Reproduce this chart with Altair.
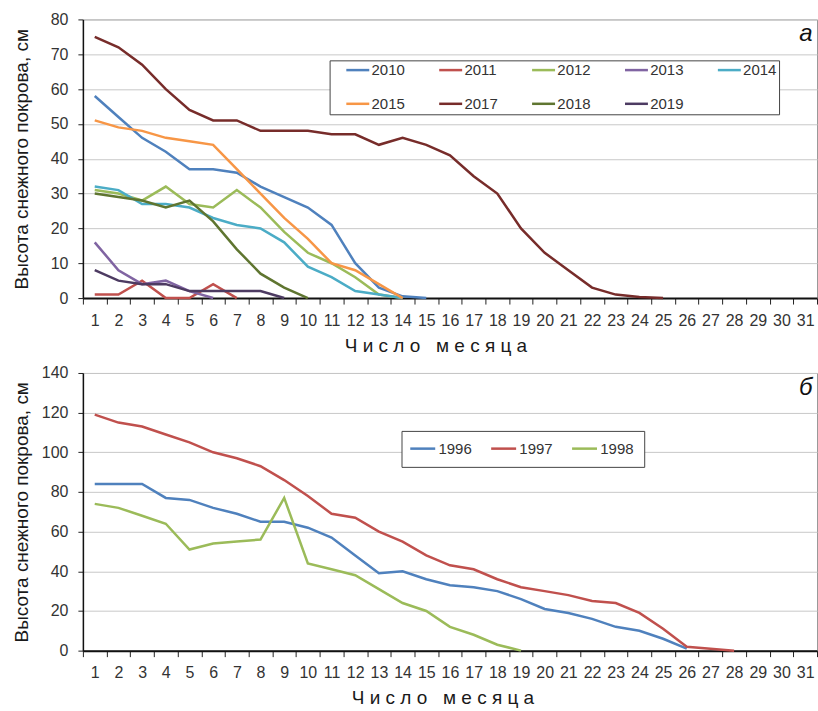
import altair as alt
import pandas as pd

FONT = "Liberation Sans"
days = list(range(1, 32))

# ---------- Panel а ----------
years_a = ["2010", "2011", "2012", "2013", "2014", "2015", "2017", "2018", "2019"]
colors_a = ["#4F81BD", "#C0504D", "#9BBB59", "#8064A2", "#4BACC6",
            "#F79646", "#772C2A", "#5F7530", "#4D3B62"]
s2010 = [58, 52, 46, 42, 37, 37, 36, 32, 29, 26, 21, 10, 3, 0.5, 0]
s2011 = [1, 1, 5, 0, 0, 4, 0]
s2012 = [31, 30, 28, 32, 27, 26, 31, 26, 19, 13, 10, 6, 1, 0]
s2013 = [16, 8, 4, 5, 2, 0]
s2014 = [32, 31, 27, 27, 26, 23, 21, 20, 16, 9, 6, 2, 1, 0]
s2015 = [51, 49, 48, 46, 45, 44, 37, 30, 23, 17, 10, 8, 4, 0]
s2017 = [75, 72, 67, 60, 54, 51, 51, 48, 48, 48, 47, 47, 44, 46, 44, 41, 35, 30,
         20, 13, 8, 3, 1, 0.3, 0]
s2018 = [30, 29, 28, 26, 28, 22, 14, 7, 3, 0]
s2019 = [8, 5, 4, 4, 2, 2, 2, 2, 0]
series_a = [s2010, s2011, s2012, s2013, s2014, s2015, s2017, s2018, s2019]

# ---------- Panel б ----------
years_b = ["1996", "1997", "1998"]
colors_b = ["#4F81BD", "#C0504D", "#9BBB59"]
s1996 = [84, 84, 84, 77, 76, 72, 69, 65, 65, 62, 57, 48, 39, 40, 36, 33, 32, 30,
         26, 21, 19, 16, 12, 10, 6, 1]
s1997 = [119, 115, 113, 109, 105, 100, 97, 93, 86, 78, 69, 67, 60, 55, 48, 43, 41,
         36, 32, 30, 28, 25, 24, 19, 11, 2, 1, 0]
s1998 = [74, 72, 68, 64, 51, 54, 55, 56, 77, 44, 41, 38, 31, 24, 20, 12, 8, 3, 0]
series_b = [s1996, s1997, s1998]

ytitle = "Высота снежного покрова, см"
xtitle = "Ч и с л о\u00a0\u00a0\u00a0м е с я ц а"


def frame(years, series):
    rows = []
    for k, (yr, vals) in enumerate(zip(years, series)):
        for i, v in enumerate(vals):
            rows.append({"day": i + 1, "h": v, "year": yr, "k": k})
    return pd.DataFrame(rows)


df_a = frame(years_a, series_a)
df_b = frame(years_b, series_b)

W = 735


def xenc(title_x):
    return alt.X(
        "day:O", bandPosition=0.5,
        scale=alt.Scale(type="band", domain=days, paddingInner=0, paddingOuter=0),
        axis=alt.Axis(title=xtitle, tickBand="extent", labelAngle=0, grid=False,
                      tickSize=6, labelPadding=8, domainWidth=2, domainColor="#111",
                      titleX=title_x, titleAlign="center", titlePadding=8,
                      titleFontSize=19, titleFontWeight="normal", titleColor="#1a1a1a"),
    )


def yenc(domain, step, H):
    return alt.Y(
        "h:Q",
        scale=alt.Scale(domain=domain, nice=False, zero=True),
        axis=alt.Axis(title=ytitle, values=list(range(domain[0], domain[1] + 1, step)),
                      grid=True, tickSize=5, labelPadding=10, domainWidth=1.5,
                      domainColor="#111", titleX=-61, titleY=H / 2, titleAngle=270,
                      titleAlign="center", titleBaseline="middle", titleFontSize=19,
                      titleFontWeight="normal", titleColor="#1a1a1a"),
    )


HA = 279
top = alt.Chart(df_a).mark_line(strokeWidth=2.5).encode(
    x=xenc(353),
    y=yenc([0, 80], 10, HA),
    color=alt.Color("year:N", scale=alt.Scale(domain=years_a, range=colors_a),
                    legend=alt.Legend(title=None, orient="none", legendX=247, legendY=41,
                                      direction="horizontal", columns=5,
                                      symbolType="M1.26,0H5.26", symbolSize=132,
                                      symbolStrokeWidth=2.5, labelOffset=25,
                                      labelFontSize=15, labelColor="#333",
                                      columnPadding=19, rowPadding=18, padding=2,
                                      strokeColor="#444", fillColor="white")),
    detail="year:N",
    order="day:O",
).properties(width=W, height=HA,
             title=alt.TitleParams("а", anchor="end", fontStyle="italic", fontSize=24,
                                   fontWeight="normal", offset=-35, dx=-5, color="#111"))

HB = 278
bottom = alt.Chart(df_b).mark_line(strokeWidth=2.5).encode(
    x=xenc(360),
    y=yenc([0, 140], 20, HB),
    color=alt.Color("year:N", scale=alt.Scale(domain=years_b, range=colors_b),
                    legend=alt.Legend(title=None, orient="none", legendX=319, legendY=58,
                                      direction="horizontal", columns=3,
                                      symbolType="M-1.52,0H2.83", symbolSize=132,
                                      symbolStrokeWidth=2.5, labelOffset=12,
                                      labelFontSize=15, labelColor="#333",
                                      columnPadding=13, padding=10,
                                      strokeColor="#444", fillColor="white")),
    detail="year:N",
    order="day:O",
).properties(width=W, height=HB,
             title=alt.TitleParams("б", anchor="end", fontStyle="italic", fontSize=24,
                                   fontWeight="normal", offset=-35, dx=-5, color="#111"))

chart = alt.vconcat(top, bottom, spacing=8).resolve_scale(color="independent").properties(
    padding={"left": 12, "top": 10, "right": 0, "bottom": 0}
).configure(font=FONT, background="white").configure_axis(
    labelFont=FONT, titleFont=FONT, labelFontSize=16, labelColor="#333",
    tickColor="#222", gridColor="#c8c8c8", gridWidth=1
).configure_view(stroke="#999", strokeWidth=1).configure_legend(
    labelFont=FONT
).configure_title(font=FONT)

chart.save("out.html", embed_options={"renderer": "svg", "actions": False})
